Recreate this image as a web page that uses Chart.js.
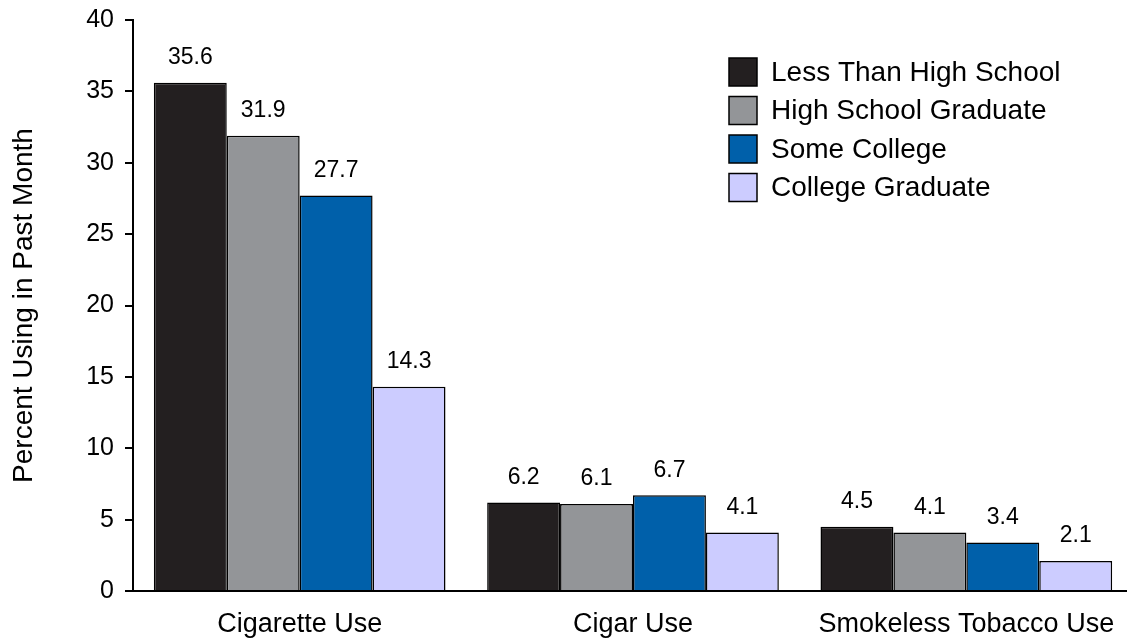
<!DOCTYPE html>
<html><head><meta charset="utf-8">
<script src="https://cdn.jsdelivr.net/npm/chart.js@4/dist/chart.umd.min.js"></script>
<style>html,body{margin:0;padding:0;background:#fff;overflow:hidden}#wrap{width:1133px;height:639px;position:relative}</style>
</head><body><div id="wrap"><canvas id="c"></canvas></div>
<script>
const categories = ["Cigarette Use", "Cigar Use", "Smokeless Tobacco Use"];
const seriesNames = ["Less Than High School", "High School Graduate", "Some College", "College Graduate"];
const lessThanHS = [35.6, 6.2, 4.5];
const hsGraduate = [31.9, 6.1, 4.1];
const someCollege = [27.7, 6.7, 3.4];
const collegeGrad = [14.3, 4.1, 2.1];
const yTicks = [0, 5, 10, 15, 20, 25, 30, 35, 40];
const colors = ["#231f20", "#939598", "#0060aa", "#ccccff"];
const FONT = "'Liberation Sans', Arial, sans-serif";

const values = [lessThanHS, hsGraduate, someCollege, collegeGrad];
const datasets = values.map((v, i) => ({
  label: seriesNames[i], data: v, backgroundColor: colors[i],
  borderColor: "#000", borderWidth: 1.5, borderSkipped: "bottom",
  categoryPercentage: 0.875, barPercentage: 1.0
}));

const valueLabels = {
  id: "valueLabels",
  afterDatasetsDraw(chart) {
    const ctx = chart.ctx;
    ctx.save();
    ctx.fillStyle = "#000";
    ctx.font = "23px " + FONT;
    ctx.textAlign = "center";
    ctx.textBaseline = "middle";
    chart.data.datasets.forEach((ds, di) => {
      chart.getDatasetMeta(di).data.forEach((bar, i) => {
        ctx.fillText(ds.data[i].toFixed(1), bar.x, bar.y - 25);
      });
    });
    ctx.restore();
  }
};

const customLegend = {
  id: "customLegend",
  afterDraw(chart) {
    const ctx = chart.ctx;
    ctx.save();
    ctx.font = "28px " + FONT;
    ctx.textBaseline = "middle";
    ctx.textAlign = "left";
    chart.data.datasets.forEach((ds, i) => {
      const y = 72 + i * 38.5;
      ctx.fillStyle = ds.backgroundColor;
      ctx.fillRect(729, y - 14, 28, 28);
      ctx.strokeStyle = "#000";
      ctx.lineWidth = 1.5;
      ctx.strokeRect(729, y - 14, 28, 28);
      ctx.fillStyle = "#000";
      ctx.fillText(ds.label, 771, y + 1);
    });
    ctx.restore();
  }
};

new Chart(document.getElementById("c"), {
  type: "bar",
  data: { labels: categories, datasets },
  options: {
    responsive: true, maintainAspectRatio: false, devicePixelRatio: 1,
    animation: false,
    layout: { padding: { top: 20, left: 0, right: 0, bottom: 0 } },
    plugins: { legend: { display: false }, tooltip: { enabled: false } },
    scales: {
      x: {
        grid: { display: false, drawTicks: false },
        border: { display: true, color: "#000", width: 2 },
        ticks: { color: "#000", font: { family: FONT, size: 27 }, padding: 17, maxRotation: 0 },
        afterFit(s) { s.height = 48; }
      },
      y: {
        min: 0, max: 40,
        afterBuildTicks(s) { s.ticks = yTicks.map(v => ({ value: v })); },
        grid: { display: true, drawOnChartArea: false, drawTicks: true, tickLength: 8, color: "#000", lineWidth: 2 },
        border: { display: true, color: "#000", width: 2 },
        ticks: { color: "#000", font: { family: FONT, size: 25, lineHeight: 0.6 }, padding: 11 },
        title: { display: true, text: "Percent Using in Past Month", color: "#000", font: { family: FONT, size: 28 }, padding: { top: 7, bottom: 0 } },
        afterFit(s) { s.width = 133; }
      }
    }
  },
  plugins: [valueLabels, customLegend]
});
</script></body></html>
